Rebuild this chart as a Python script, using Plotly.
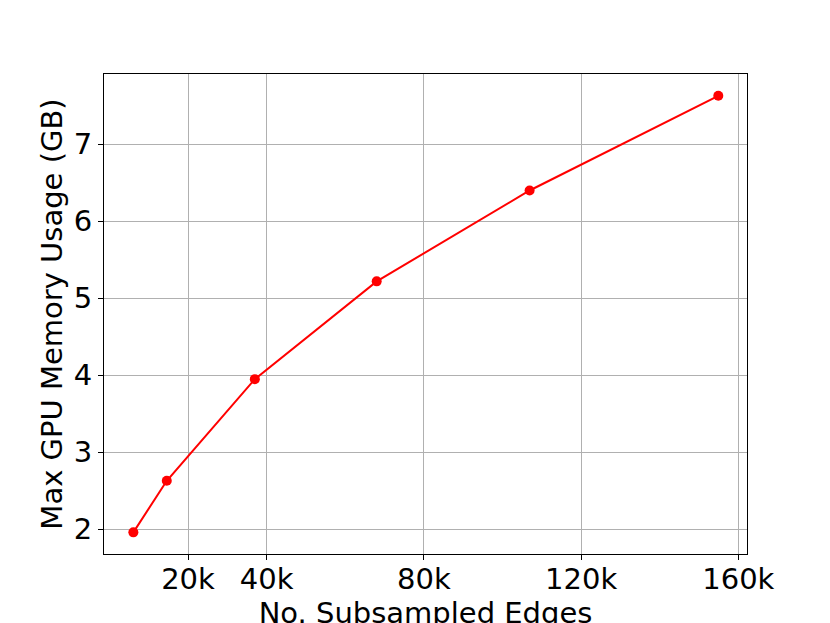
import plotly.graph_objects as go

edges_k = [6.1, 14.6, 37.0, 68.0, 106.9, 154.9]
memory_gb = [1.96, 2.63, 3.95, 5.22, 6.40, 7.63]
x_tickvals = [20, 40, 80, 120, 160]
x_ticktext = ["20k", "40k", "80k", "120k", "160k"]
y_tickvals = [2, 3, 4, 5, 6, 7]

fig = go.Figure()
fig.add_trace(go.Scatter(
    x=edges_k, y=memory_gb, mode="lines+markers",
    line=dict(color="#ff0000", width=2),
    marker=dict(color="#ff0000", size=10),
    showlegend=False,
))

font = dict(family="DejaVu Sans", size=29, color="black")
axis_common = dict(
    showline=True, linecolor="black", linewidth=1.1, mirror=True,
    ticks="outside", ticklen=5, tickwidth=1.1, tickcolor="black",
    showgrid=True, gridcolor="#b0b0b0", gridwidth=1.1,
    zeroline=False, tickfont=font, automargin=False,
)
fig.update_layout(
    width=830, height=623,
    margin=dict(l=96, r=91, t=66, b=77),
    paper_bgcolor="white", plot_bgcolor="white",
    font=font,
    xaxis=dict(range=[-1.37, 162.2], tickvals=x_tickvals, ticktext=x_ticktext,
               ticklabelstandoff=-6,
               title=dict(text="No. Subsampled Edges", font=font, standoff=2),
               **axis_common),
    yaxis=dict(range=[1.679, 7.913], tickvals=y_tickvals, ticklabelstandoff=0,
               title=dict(text="Max GPU Memory Usage (GB)", font=font, standoff=2),
               **axis_common),
)
fig.write_html("out.html")
